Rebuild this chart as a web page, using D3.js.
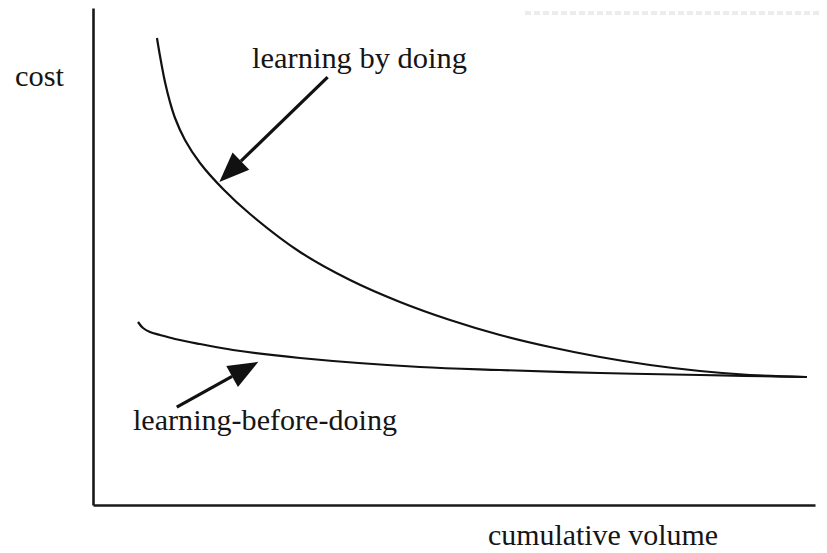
<!DOCTYPE html>
<html lang="en">
<head>
    <meta charset="UTF-8">
    <title>Learning by doing vs learning-before-doing</title>
    <script src="https://d3js.org/d3.v7.min.js"></script>
    <style>
        body { margin: 0; background: #fff; }
        .label { font-family: "Liberation Serif", "Times New Roman", serif; font-size: 30px; fill: #151515; }
        .curve { fill: none; stroke: #111; stroke-width: 2.2; }
    </style>
</head>
<body>
    <svg width="827" height="553"></svg>
    <script>
        // cumulative volume (0-100) and cost (0-100)
        const lbdVolume = [8.86, 9.28, 9.97, 10.66, 11.36, 12.74, 14.82, 18.01, 21.75, 28.67, 35.6, 42.52, 49.45, 56.37, 63.3, 70.22, 77.15, 84.07, 91.0, 98.61];
        const lbdCost   = [93.96, 90.34, 85.11, 81.09, 77.87, 73.44, 68.81, 63.58, 58.55, 50.91, 45.27, 40.85, 37.22, 34.21, 31.79, 29.78, 28.17, 26.96, 26.16, 25.75];
        const lbfdVolume = [6.23, 6.93, 7.89, 9.28, 11.36, 14.82, 19.39, 28.67, 45.29, 56.37, 70.22, 84.07, 98.89];
        const lbfdCost   = [36.82, 35.61, 34.81, 34.21, 33.4, 32.39, 31.19, 29.58, 27.77, 27.16, 26.56, 26.16, 25.75];

        // annotation arrows: [fromVolume, fromCost, toVolume, toCost]
        const arrowLbd  = [32.5, 86.1, 17.5, 65.0];
        const arrowLbfd = [11.6, 19.7, 22.9, 28.8];

        const svg = d3.select("svg");

        const x = d3.scaleLinear().domain([0, 100]).range([93, 815]);
        const y = d3.scaleLinear().domain([0, 100]).range([505, 8]);

        // axes: plain lines, no ticks
        svg.append("g")
            .attr("transform", `translate(0, ${y(0)})`)
            .call(d3.axisBottom(x).ticks(0).tickSize(0).tickSizeOuter(0))
            .call(g => g.select(".domain").attr("stroke", "#1a1a1a").attr("stroke-width", 2.6));
        svg.append("g")
            .attr("transform", `translate(${x(0)}, 0)`)
            .call(d3.axisLeft(y).ticks(0).tickSize(0).tickSizeOuter(0))
            .call(g => g.select(".domain").attr("stroke", "#1a1a1a").attr("stroke-width", 2.6));

        const line = d3.line()
            .x(d => x(d[0]))
            .y(d => y(d[1]))
            .curve(d3.curveCatmullRom.alpha(0.5));

        svg.append("path")
            .attr("class", "curve")
            .attr("d", line(d3.zip(lbdVolume, lbdCost)));
        svg.append("path")
            .attr("class", "curve")
            .attr("d", line(d3.zip(lbfdVolume, lbfdCost)));

        function arrow(a) {
            const x0 = x(a[0]), y0 = y(a[1]), x1 = x(a[2]), y1 = y(a[3]);
            const ang = Math.atan2(y1 - y0, x1 - x0);
            const len = 30, half = 12;
            const bx = x1 - len * Math.cos(ang), by = y1 - len * Math.sin(ang);
            svg.append("line")
                .attr("x1", x0).attr("y1", y0)
                .attr("x2", bx).attr("y2", by)
                .attr("stroke", "#111").attr("stroke-width", 3.2);
            const pts = [
                [x1, y1],
                [bx + half * Math.sin(ang), by - half * Math.cos(ang)],
                [bx - half * Math.sin(ang), by + half * Math.cos(ang)]
            ];
            svg.append("polygon")
                .attr("points", pts.map(p => p.join(",")).join(" "))
                .attr("fill", "#111");
        }
        arrow(arrowLbd);
        arrow(arrowLbfd);

        svg.append("text").attr("class", "label")
            .attr("x", 15).attr("y", 86)
            .attr("textLength", 49).attr("lengthAdjust", "spacingAndGlyphs")
            .text("cost");
        svg.append("text").attr("class", "label")
            .attr("x", 252).attr("y", 68)
            .attr("textLength", 215).attr("lengthAdjust", "spacingAndGlyphs")
            .text("learning by doing");
        svg.append("text").attr("class", "label")
            .attr("x", 133).attr("y", 430)
            .attr("textLength", 264).attr("lengthAdjust", "spacingAndGlyphs")
            .text("learning-before-doing");
        svg.append("text").attr("class", "label")
            .attr("x", 488).attr("y", 545)
            .attr("textLength", 230).attr("lengthAdjust", "spacingAndGlyphs")
            .text("cumulative volume");

        // faint scan residue at the top right
        svg.append("line")
            .attr("x1", 525).attr("x2", 822).attr("y1", 13).attr("y2", 13)
            .attr("stroke", "#ececec").attr("stroke-width", 4)
            .attr("stroke-dasharray", "6,3");
    </script>
</body>
</html>
